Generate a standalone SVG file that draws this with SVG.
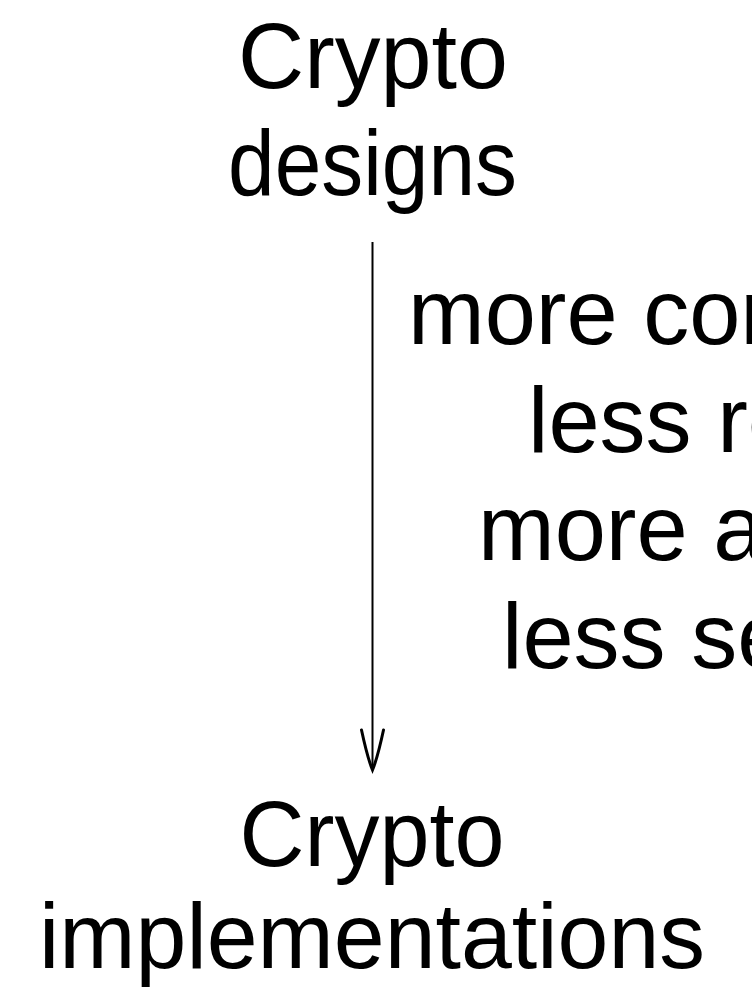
<svg xmlns="http://www.w3.org/2000/svg" width="752" height="993" viewBox="0 0 752 993">
<style>
  text { font-family: "Liberation Sans", Arial, sans-serif; font-size: 92px; fill: #000; }
  .c { text-anchor: middle; }
  .edge { stroke: #000; stroke-width: 2; fill: none; }
</style>
<defs>
  <marker id="arr" markerUnits="userSpaceOnUse" viewBox="-44 -14 48 28" refX="0" refY="0" markerWidth="48" markerHeight="28" orient="auto">
    <path d="M -40,-11 Q -12,-5 0,0 Q -12,5 -40,11" fill="none" stroke="#000" stroke-width="3" stroke-linecap="round"/>
  </marker>
</defs>
<rect width="752" height="993" fill="#fff"/>
<g id="designs">
  <text class="c" x="373" y="88" textLength="270" lengthAdjust="spacingAndGlyphs">Crypto</text>
  <text class="c" x="372.5" y="195" textLength="289" lengthAdjust="spacingAndGlyphs">designs</text>
</g>
<g id="implementations">
  <text class="c" x="372" y="866" textLength="265" lengthAdjust="spacingAndGlyphs">Crypto</text>
  <text class="c" x="372" y="968" textLength="666" lengthAdjust="spacingAndGlyphs">implementations</text>
</g>
<g id="connectors">
  <line class="edge" x1="372.5" y1="242" x2="372.5" y2="770" marker-end="url(#arr)"/>
</g>
<g id="edge-label">
  <text x="408" y="344">more con</text>
  <text x="528" y="452">less re</text>
  <text x="478" y="560">more a</text>
  <text x="502" y="668">less se</text>
</g>
</svg>
